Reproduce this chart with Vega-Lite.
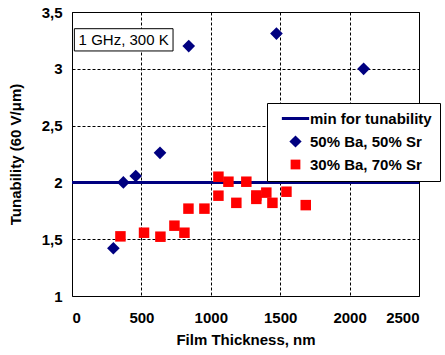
{
  "$schema": "https://vega.github.io/schema/vega-lite/v6.json",
  "width": 347,
  "height": 284,
  "autosize": {"type": "none"},
  "padding": {"left": 72, "top": 12, "right": 26, "bottom": 59},
  "background": "white",
  "config": {
    "font": "Liberation Sans",
    "view": {"stroke": "black", "strokeWidth": 1},
    "axis": {
      "grid": true,
      "gridColor": "black",
      "gridDash": [3, 2],
      "gridWidth": 1,
      "gridOpacity": 1,
      "ticks": false,
      "domain": false,
      "labelFont": "Liberation Sans",
      "labelFontSize": 15,
      "labelFontWeight": "bold",
      "labelColor": "black",
      "titleFont": "Liberation Sans",
      "titleFontSize": 15,
      "titleFontWeight": "bold",
      "titleColor": "black"
    }
  },
  "datasets": {
    "pts": [
      {"t": 298, "tun": 1.42, "series": "50% Ba, 50% Sr"},
      {"t": 370, "tun": 2.0, "series": "50% Ba, 50% Sr"},
      {"t": 459, "tun": 2.056, "series": "50% Ba, 50% Sr"},
      {"t": 634, "tun": 2.26, "series": "50% Ba, 50% Sr"},
      {"t": 841, "tun": 3.2, "series": "50% Ba, 50% Sr"},
      {"t": 1473, "tun": 3.31, "series": "50% Ba, 50% Sr"},
      {"t": 2101, "tun": 3.0, "series": "50% Ba, 50% Sr"},
      {"t": 349, "tun": 1.525, "series": "30% Ba, 70% Sr"},
      {"t": 519, "tun": 1.557, "series": "30% Ba, 70% Sr"},
      {"t": 637, "tun": 1.522, "series": "30% Ba, 70% Sr"},
      {"t": 738, "tun": 1.619, "series": "30% Ba, 70% Sr"},
      {"t": 810, "tun": 1.557, "series": "30% Ba, 70% Sr"},
      {"t": 839, "tun": 1.769, "series": "30% Ba, 70% Sr"},
      {"t": 954, "tun": 1.769, "series": "30% Ba, 70% Sr"},
      {"t": 1055, "tun": 2.05, "series": "30% Ba, 70% Sr"},
      {"t": 1055, "tun": 1.883, "series": "30% Ba, 70% Sr"},
      {"t": 1127, "tun": 2.006, "series": "30% Ba, 70% Sr"},
      {"t": 1184, "tun": 1.82, "series": "30% Ba, 70% Sr"},
      {"t": 1256, "tun": 2.006, "series": "30% Ba, 70% Sr"},
      {"t": 1328, "tun": 1.885, "series": "30% Ba, 70% Sr"},
      {"t": 1328, "tun": 1.855, "series": "30% Ba, 70% Sr"},
      {"t": 1400, "tun": 1.91, "series": "30% Ba, 70% Sr"},
      {"t": 1444, "tun": 1.82, "series": "30% Ba, 70% Sr"},
      {"t": 1545, "tun": 1.918, "series": "30% Ba, 70% Sr"},
      {"t": 1684, "tun": 1.8, "series": "30% Ba, 70% Sr"}
    ]
  },
  "encoding": {
    "x": {
      "field": "t", "type": "quantitative",
      "scale": {"domain": [0, 2500], "nice": false, "zero": false},
      "axis": {"values": [0, 500, 1000, 1500, 2000, 2500], "format": "d", "title": "Film Thickness, nm", "labelPadding": 14, "titlePadding": 7}
    },
    "y": {
      "field": "tun", "type": "quantitative",
      "scale": {"domain": [1, 3.5], "nice": false, "zero": false},
      "axis": {"values": [1, 1.5, 2, 2.5, 3, 3.5], "title": "Tunability (60 V/μm)", "labelPadding": 10, "titlePadding": 18, "labelExpr": "replace(format(datum.value, '.1~f'), '.', ',')"}
    },
    "color": {
      "field": "series", "type": "nominal",
      "scale": {"domain": ["min for tunability", "50% Ba, 50% Sr", "30% Ba, 70% Sr"], "range": ["#000080", "#000080", "#FF0000"]},
      "legend": {
        "title": null,
        "orient": "none",
        "legendX": 195,
        "legendY": 91,
        "strokeColor": "black",
        "fillColor": "white",
        "padding": 8,
        "cornerRadius": 0,
        "labelFont": "Liberation Sans",
        "labelFontSize": 15,
        "labelFontWeight": "bold",
        "labelColor": "black",
        "rowPadding": 7,
        "symbolOffset": 13,
        "labelOffset": 7,
        "symbolSize": 95,
        "encode": {
          "symbols": {
            "update": {
              "stroke": {"signal": "datum.value == 'min for tunability' ? '#000080' : 'transparent'"},
              "strokeWidth": {"signal": "datum.value == 'min for tunability' ? 3 : 0"},
              "size": {"signal": "datum.value == '50% Ba, 50% Sr' ? 150 : 95"}
            }
          }
        }
      }
    },
    "shape": {
      "field": "series", "type": "nominal",
      "scale": {"domain": ["min for tunability", "50% Ba, 50% Sr", "30% Ba, 70% Sr"], "range": ["M-2.8,0L2.8,0", "diamond", "square"]},
      "legend": null
    }
  },
  "layer": [
    {
      "data": {"values": [{"x1": 17, "x2": 728, "y1": 3.157, "y2": 3.353}]},
      "mark": {"type": "rect", "fill": "white", "stroke": "black", "strokeWidth": 1},
      "encoding": {
        "x": {"field": "x1", "type": "quantitative"},
        "x2": {"field": "x2"},
        "y": {"field": "y1", "type": "quantitative"},
        "y2": {"field": "y2"},
        "color": null,
        "shape": null
      }
    },
    {
      "data": {"values": [{"x": 372, "y": 3.255, "label": "1 GHz, 300 K"}]},
      "mark": {"type": "text", "font": "Liberation Sans", "fontSize": 15, "color": "black", "baseline": "middle", "align": "center"},
      "encoding": {
        "x": {"field": "x", "type": "quantitative"},
        "y": {"field": "y", "type": "quantitative"},
        "text": {"field": "label"},
        "color": null,
        "shape": null
      }
    },
    {
      "data": {"values": [{"tun": 2, "series": "min for tunability"}]},
      "mark": {"type": "rule", "strokeWidth": 3},
      "encoding": {
        "x": null,
        "shape": null
      }
    },
    {
      "data": {"name": "pts"},
      "transform": [{"filter": "datum.series == '50% Ba, 50% Sr'"}],
      "mark": {"type": "point", "filled": true, "opacity": 1, "size": 160}
    },
    {
      "data": {"name": "pts"},
      "transform": [{"filter": "datum.series == '30% Ba, 70% Sr'"}],
      "mark": {"type": "point", "filled": true, "opacity": 1, "size": 110}
    }
  ]
}
